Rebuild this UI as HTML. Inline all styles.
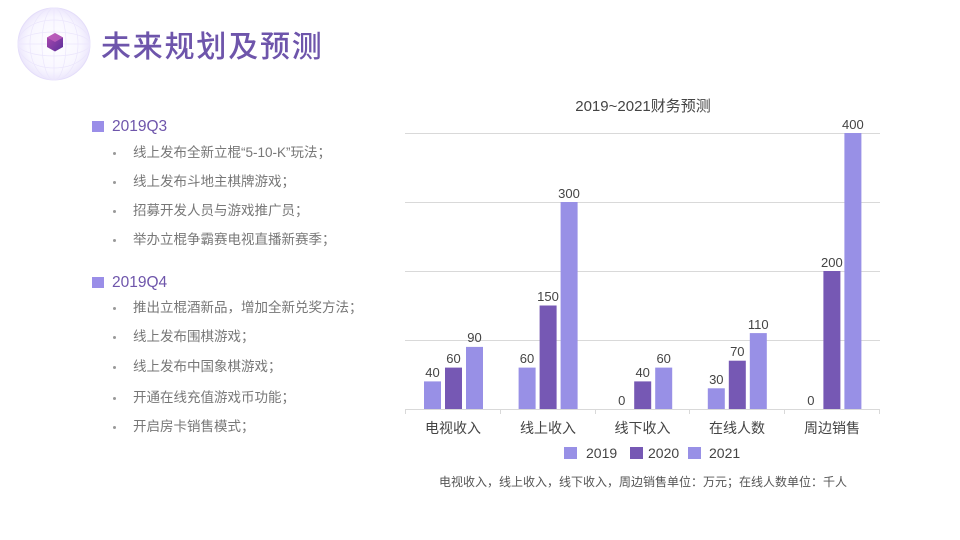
<!DOCTYPE html>
<html><head><meta charset="utf-8">
<style>
html,body{margin:0;padding:0;background:#fff;}
body{width:960px;height:540px;position:relative;overflow:hidden;font-family:"Liberation Sans","Noto Sans CJK SC",sans-serif;}
.abs{position:absolute;white-space:nowrap;}
.title{left:101px;top:29px;font-size:30px;color:#6e55ab;letter-spacing:1.8px;line-height:38px;font-family:"Liberation Sans","Noto Sans CJK SC",sans-serif;font-weight:500;}
.sq{position:absolute;width:12px;height:11px;background:#9a8ee8;}
.hd{font-size:15.5px;color:#6e55ab;line-height:18px;}
.it{font-size:13.5px;color:#777;line-height:16px;}
.dot{position:absolute;width:3px;height:3px;background:#999;border-radius:50%;}
</style></head><body>
<svg class="abs" style="left:0;top:0" width="110" height="90" viewBox="0 0 110 90">
<defs>
<radialGradient id="sg" cx="50%" cy="50%" r="50%">
<stop offset="0" stop-color="#ffffff"/>
<stop offset="0.75" stop-color="#f8f6ff"/>
<stop offset="1" stop-color="#ece7fc"/>
</radialGradient>
<linearGradient id="hg" x1="0" y1="0" x2="1" y2="1">
<stop offset="0" stop-color="#b04ab0"/>
<stop offset="1" stop-color="#5a2f9a"/>
</linearGradient>
</defs>
<circle cx="54" cy="44" r="36" fill="url(#sg)" stroke="#e4ddfa" stroke-width="1"/>
<g fill="none" stroke="#ebe6fc" stroke-width="0.7">
<ellipse cx="54" cy="44" rx="36" ry="12"/>
<ellipse cx="54" cy="44" rx="36" ry="24"/>
<ellipse cx="54" cy="44" rx="12" ry="36"/>
<ellipse cx="54" cy="44" rx="24" ry="36"/>
<line x1="18" y1="44" x2="90" y2="44"/>
<line x1="54" y1="8" x2="54" y2="80"/>
</g>
<polygon points="55,33 63,37.5 63,47 55,51.5 47,47 47,37.5" fill="url(#hg)"/>
<polygon points="55,33 63,37.5 55,42 47,37.5" fill="#c866c0" opacity="0.7"/>
</svg>
<div class="abs title">未来规划及预测</div>

<div class="sq" style="left:92px;top:121px"></div>
<div class="abs hd" style="left:112px;top:118px">2019Q3</div>
<div class="dot" style="left:113px;top:152px"></div>
<div class="abs it" style="left:133px;top:145px">线上发布全新立棍“5-10-K”玩法；</div>
<div class="dot" style="left:113px;top:181px"></div>
<div class="abs it" style="left:133px;top:174px">线上发布斗地主棋牌游戏；</div>
<div class="dot" style="left:113px;top:210px"></div>
<div class="abs it" style="left:133px;top:203px">招募开发人员与游戏推广员；</div>
<div class="dot" style="left:113px;top:239px"></div>
<div class="abs it" style="left:133px;top:232px">举办立棍争霸赛电视直播新赛季；</div>

<div class="sq" style="left:92px;top:277px"></div>
<div class="abs hd" style="left:112px;top:274px">2019Q4</div>
<div class="dot" style="left:113px;top:307px"></div>
<div class="abs it" style="left:133px;top:300px">推出立棍酒新品，增加全新兑奖方法；</div>
<div class="dot" style="left:113px;top:336px"></div>
<div class="abs it" style="left:133px;top:329px">线上发布围棋游戏；</div>
<div class="dot" style="left:113px;top:366px"></div>
<div class="abs it" style="left:133px;top:359px">线上发布中国象棋游戏；</div>
<div class="dot" style="left:113px;top:397px"></div>
<div class="abs it" style="left:133px;top:390px">开通在线充值游戏币功能；</div>
<div class="dot" style="left:113px;top:426px"></div>
<div class="abs it" style="left:133px;top:419px">开启房卡销售模式；</div>

<svg class="abs" style="left:0;top:0" width="960" height="540" viewBox="0 0 960 540" font-family="Liberation Sans, Noto Sans CJK SC, sans-serif">
<text x="643" y="111" font-size="15" fill="#444" text-anchor="middle">2019~2021财务预测</text>
<g stroke="#d9d9d9" stroke-width="1">
<line x1="405" y1="133.5" x2="880" y2="133.5"/>
<line x1="405" y1="202.5" x2="880" y2="202.5"/>
<line x1="405" y1="271.5" x2="880" y2="271.5"/>
<line x1="405" y1="340.5" x2="880" y2="340.5"/>
<line x1="405" y1="409.5" x2="880" y2="409.5"/>
<line x1="405.5" y1="409" x2="405.5" y2="414"/>
<line x1="500.5" y1="409" x2="500.5" y2="414"/>
<line x1="595.5" y1="409" x2="595.5" y2="414"/>
<line x1="689.5" y1="409" x2="689.5" y2="414"/>
<line x1="784.5" y1="409" x2="784.5" y2="414"/>
<line x1="879.5" y1="409" x2="879.5" y2="414"/>
</g>
<!-- group 1 -->
<rect x="424" y="381.4" width="17" height="27.6" fill="#9890e6"/>
<rect x="445" y="367.6" width="17" height="41.4" fill="#7658b4"/>
<rect x="466" y="346.9" width="17" height="62.1" fill="#9890e6"/>
<!-- group 2 -->
<rect x="518.6" y="367.6" width="17" height="41.4" fill="#9890e6"/>
<rect x="539.6" y="305.5" width="17" height="103.5" fill="#7658b4"/>
<rect x="560.6" y="202" width="17" height="207" fill="#9890e6"/>
<!-- group 3 -->
<rect x="634.2" y="381.4" width="17" height="27.6" fill="#7658b4"/>
<rect x="655.2" y="367.6" width="17" height="41.4" fill="#9890e6"/>
<!-- group 4 -->
<rect x="707.8" y="388.3" width="17" height="20.7" fill="#9890e6"/>
<rect x="728.8" y="360.7" width="17" height="48.3" fill="#7658b4"/>
<rect x="749.8" y="333.1" width="17" height="75.9" fill="#9890e6"/>
<!-- group 5 -->
<rect x="823.4" y="271" width="17" height="138" fill="#7658b4"/>
<rect x="844.4" y="133" width="17" height="276" fill="#9890e6"/>

<g font-size="13" fill="#444" text-anchor="middle">
<text x="432.5" y="377">40</text>
<text x="453.5" y="363">60</text>
<text x="474.5" y="342">90</text>
<text x="527" y="363">60</text>
<text x="548" y="301">150</text>
<text x="569" y="198">300</text>
<text x="621.7" y="405">0</text>
<text x="642.7" y="377">40</text>
<text x="663.7" y="363">60</text>
<text x="716.3" y="384">30</text>
<text x="737.3" y="356">70</text>
<text x="758.3" y="329">110</text>
<text x="810.9" y="405">0</text>
<text x="831.9" y="267">200</text>
<text x="852.9" y="129">400</text>
</g>
<g font-size="14" fill="#444" text-anchor="middle">
<text x="453" y="433">电视收入</text>
<text x="548" y="433">线上收入</text>
<text x="642.5" y="433">线下收入</text>
<text x="737" y="433">在线人数</text>
<text x="832" y="433">周边销售</text>
</g>
<rect x="564" y="447" width="13" height="12" fill="#9890e6"/>
<text x="586" y="458" font-size="14" fill="#444">2019</text>
<rect x="630" y="447" width="13" height="12" fill="#7658b4"/>
<text x="648" y="458" font-size="14" fill="#444">2020</text>
<rect x="688" y="447" width="13" height="12" fill="#9890e6"/>
<text x="709" y="458" font-size="14" fill="#444">2021</text>
<text x="643" y="486" font-size="12" fill="#555" text-anchor="middle">电视收入，线上收入，线下收入，周边销售单位：万元；在线人数单位：千人</text>
</svg>
</body></html>
